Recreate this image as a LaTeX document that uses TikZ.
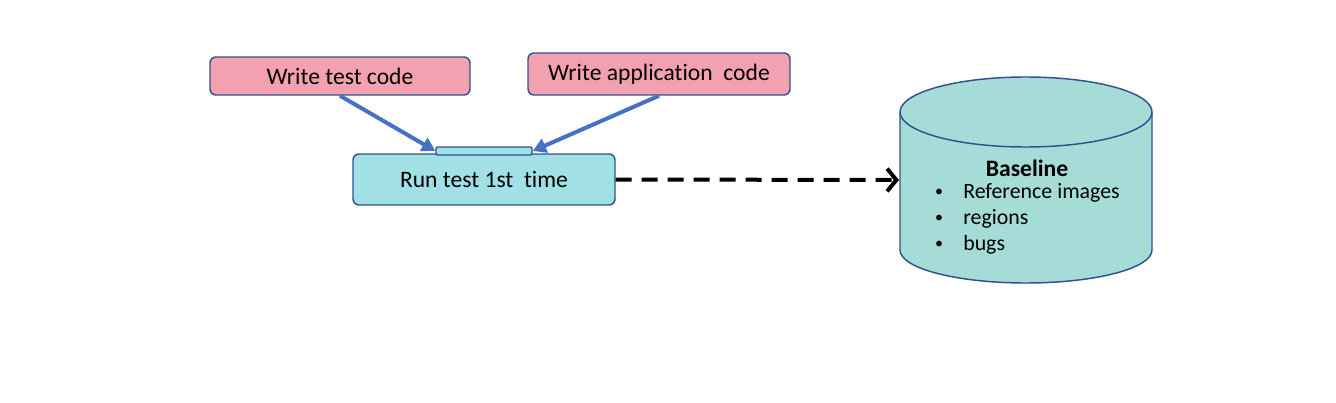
\documentclass[tikz,border=0pt]{standalone}
\usepackage{fontspec}
\setmainfont{Carlito}[Ligatures=NoCommon]
\usetikzlibrary{positioning,arrows.meta}

\definecolor{taskpink}{HTML}{F3A1B1}
\definecolor{runcyan}{HTML}{A1E0E4}
\definecolor{dbcyan}{HTML}{A6DCD8}
\definecolor{edgeblue}{HTML}{2F528F}
\definecolor{flowblue}{HTML}{4472C4}

% sizes below are given in px of the reference (1px = 0.75pt)
\tikzset{
  px size/.style 2 args={minimum width=#1*0.75pt,minimum height=#2*0.75pt},
  taskbox/.style={draw=edgeblue,line width=1.1pt,fill=taskpink,rounded corners=4.5pt,
    inner sep=0,font=\fontsize{17.7}{21}\selectfont},
  runbox/.style={taskbox,fill=runcyan},
  flow/.style={draw=flowblue,line width=3pt,-{Triangle[length=10pt,width=11pt]}},
  listtext/.style={inner sep=0,font=\fontsize{16.4}{19.5}\selectfont}
}

\begin{document}
\begin{tikzpicture}[x=0.75pt,y=0.75pt]
  \useasboundingbox (0,0) rectangle (1336,-403);

  \node (wtest) [taskbox,px size={260}{38}] at (340,-76) {Write test code};
  \node (wapp) [taskbox,px size={262}{42}] at (659,-74) {Write application\ \ code};
  \node (run) [runbox,px size={262}{51}] at (484,-179.5) {Run test 1st\ \ time};
  % little tab sitting on top of the run box
  \node (tab) [draw=edgeblue,line width=1.1pt,fill=runcyan,rounded corners=1pt,inner sep=0,
    px size={96}{8}] at (484,-151) {};

  \draw [flow] (wtest.south) -- (tab.west);
  \draw [flow] (wapp.south) -- (tab.east);

  % baseline store
  \filldraw[draw=edgeblue,line width=1.1pt,fill=dbcyan]
    (900,-112) -- (900,-250) arc[start angle=180,end angle=360,x radius=126,y radius=33]
    -- (1152,-112) arc[start angle=0,end angle=180,x radius=126,y radius=35] -- cycle;
  \draw[edgeblue,line width=1.1pt]
    (900,-112) arc[start angle=180,end angle=360,x radius=126,y radius=35];
  \coordinate (dbin) at (899,-180);

  \node (base) [listtext] at (1027,-168) {\bfseries\fontsize{17.7}{21}\selectfont Baseline};
  \foreach \name/\txt/\y in {b1/Reference images/193,b2/regions/219,b3/bugs/245}{
    \node (\name-dot) [listtext,font=\fontsize{12}{14}\selectfont] at (939,-\y) {\textbullet};
    \node (\name) [listtext,anchor=west] at (963,-\y) {\txt};
  }

  \draw [line width=3pt,dash pattern=on 12pt off 7.5pt,
    -{Straight Barb[length=7pt,width=17pt]}] (run.east) -- (dbin);
\end{tikzpicture}
\end{document}
